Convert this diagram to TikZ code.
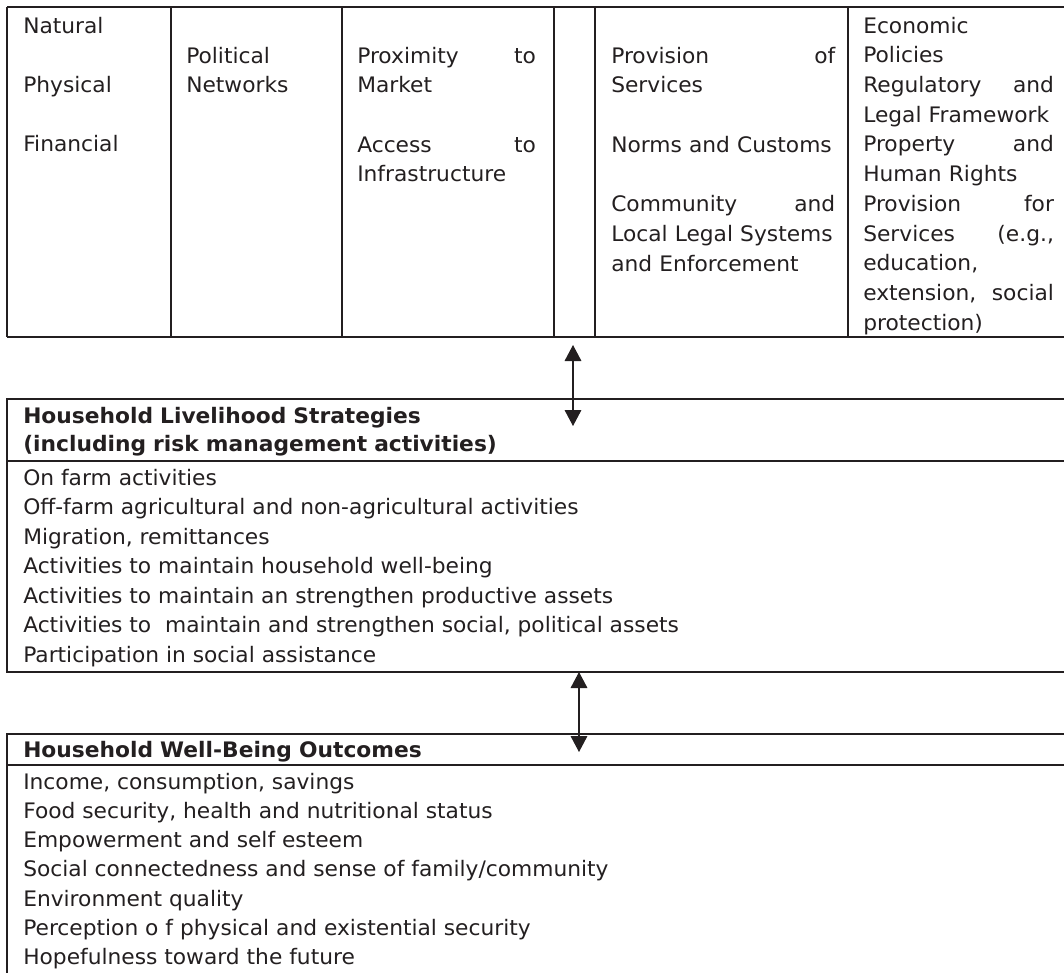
\documentclass[tikz,border=0pt]{standalone}
\usepackage{fontspec}
\setmainfont{DejaVu Sans}[FakeStretch=1.02]
\usetikzlibrary{arrows.meta}
\definecolor{ink}{HTML}{231F20}

\begin{document}
\begin{tikzpicture}[x=0.75pt, y=-0.75pt, font=\fontsize{16}{22.3}\selectfont,
    >={Triangle[length=12pt, width=12.5pt]},
    frame/.style={draw=ink, line width=1.1pt},
    link/.style={draw=ink, line width=0.9pt, <->},
    cell/.style={anchor=base west, inner sep=0pt, text=ink, align=left, text width=#1},
    row/.style={anchor=base west, inner sep=0pt, text=ink},
    head/.style={cell=600pt, font=\fontsize{16}{21}\selectfont\bfseries}]
  \clip (0,0) rectangle (1064,972);

  % top table: assets, institutions, policies
  \draw[frame] (7,7) -- (1070,7) (7,337) -- (1070,337);
  \foreach \x in {7,171,342,554,595,848}
      {\draw[frame] (\x,7) -- (\x,337);}

  \node[cell=120pt] (assets) at (23,33)
      {Natural\\[22.3pt]Physical\\[22.3pt]Financial};
  \node[cell=110pt] (social) at (186,63) {Political\\Networks};
  \node[cell=134pt] (access) at (357,63)
      {Proximity\hfill to\\Market\\[22.3pt]Access\hfill to\\Infrastructure};
  \node[cell=168pt] (instit) at (611,63)
      {Provision\hfill of\\Services\\[22.3pt]Norms and Customs\\[22.3pt]%
       Community\hfill and\\Local Legal Systems\\and Enforcement};
  \node[cell=143pt] (policy) at (863,33)
      {Economic\\Policies\\Regulatory\hfill and\\Legal Framework\\%
       Property\hfill and\\Human Rights\\Provision\hfill for\\%
       Services\hfill (e.g.,\\education,\\extension,\hfill social\\protection)};

  % livelihood strategies
  \draw[frame] (7,399) rectangle (1070,672) (7,461) -- (1070,461);
  \node[head] (hlshead) at (23,423)
      {Household Livelihood Strategies\\(including risk management activities)};
  \foreach \t [count=\i from 0] in {On farm activities,
      Off-farm agricultural and non-agricultural activities,
      {Migration, remittances},
      Activities to maintain household well-being,
      Activities to maintain an strengthen productive assets,
      {Activities to\ \ maintain and strengthen social, political assets},
      Participation in social assistance}
      {\node[row] (hls\i) at (23,{485+29.5*\i}) {\t};}

  % well-being outcomes
  \draw[frame] (7,734) rectangle (1070,990) (7,765) -- (1070,765);
  \node[head] (hwbhead) at (23,757) {Household Well-Being Outcomes};
  \foreach \t [count=\i from 0] in {{Income, consumption, savings},
      {Food security, health and nutritional status},
      Empowerment and self esteem,
      Social connectedness and sense of family/community,
      Environment quality,
      Perception o f physical and existential security,
      Hopefulness toward the future}
      {\node[row] (hwb\i) at (23,{789+29.3*\i}) {\t};}

  % two-way links
  \coordinate (lk1a) at (573,345);
  \coordinate (lk1b) at (573,426);
  \coordinate (lk2a) at (579,672);
  \coordinate (lk2b) at (579,752);
  \draw[link] (lk1a) -- (lk1b);
  \draw[link] (lk2a) -- (lk2b);
\end{tikzpicture}
\end{document}
